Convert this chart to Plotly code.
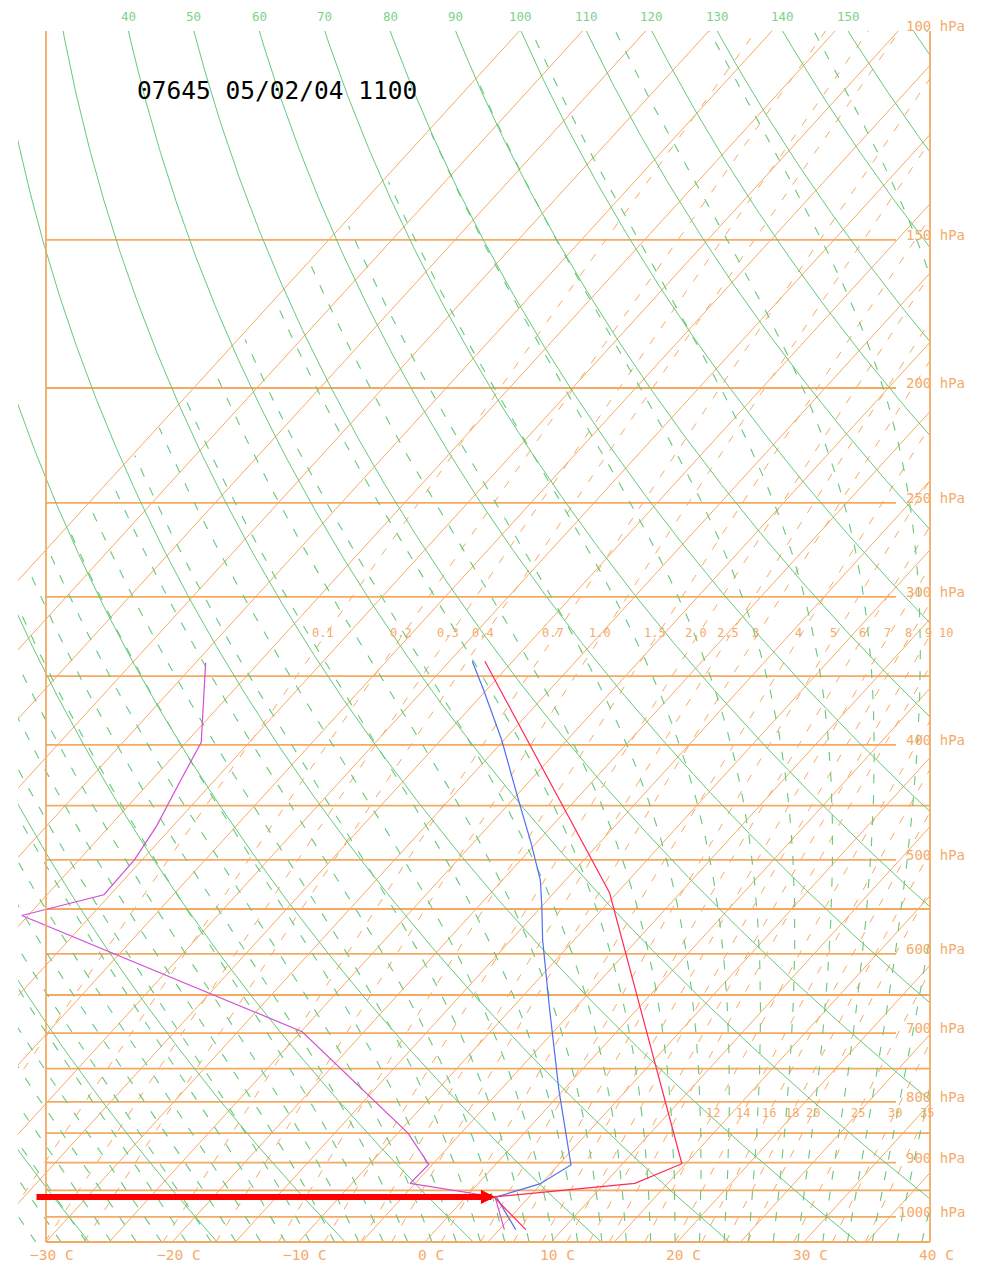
import numpy as np
import plotly.graph_objects as go

# ---------------- sounding profiles (hPa, deg C) ----------------
temp_p = [1025, 962, 937, 902, 533, 340]
temp_c = [7.1, 2.2, 12.4, 14.7, -10.6, -37.2]

dewp_p = [1025, 962, 938, 904, 781, 664, 584, 547, 520, 484, 448, 396, 359, 340]
dewp_c = [6.3, 2.4, 4.9, 6.0, -0.4, -7.2, -12.5, -15.0, -17.0, -20.4, -24.2, -30.2, -35.3, -38.2]

aux_p = [1025, 962, 937, 903, 850, 698, 557, 535, 500, 468, 431, 398, 341]
aux_c = [5.4, 2.3, -5.4, -5.3, -9.2, -24.9, -55.5, -50.5, -50.6, -51.3, -52.6, -53.8, -59.2]

# level marked by the arrow
mark_p = 962
mark_c = 2.3

title_text = "07645 05/02/04 1100"

# ---------------- diagram background definitions ----------------
isobar_levels = list(range(150, 1001, 50))
labelled_isobars = [100, 150, 200, 250, 300, 400, 500, 600, 700, 800, 900, 1000]
isotherm_values = list(range(-80, 41, 5))
dry_theta_c = list(range(-30, 161, 10))
theta_label_values = list(range(40, 151, 10))
moist_start_c = list(range(-40, 41, 2))
mix_upper = [0.1, 0.2, 0.3, 0.4, 0.7, 1.0, 1.5, 2.0, 2.5, 3, 4, 5, 6, 7, 8, 9, 10]
mix_upper_text = ["0.1", "0.2", "0.3", "0.4", "0.7", "1.0", "1.5", "2.0", "2.5",
                  "3", "4", "5", "6", "7", "8", "9", "10"]
mix_lower = [12, 14, 16, 18, 20, 25, 30, 35]
temp_ticks = [-30, -20, -10, 0, 10, 20, 30, 40]

P_BOT, P_TOP = 1050.0, 100.0
SKEW = 85.67          # horizontal shift (deg C) per decade of pressure
T_LEFT, T_RIGHT = -32.215, 40.0
T_FLOOR = -80.0       # coldest isotherm of the grid
PLOT_W = 912
PX_PER_C = PLOT_W / (T_RIGHT - T_LEFT)

ORANGE = "#f4aa63"
ORANGE_TXT = "#f4ab6a"
GREEN = "#66c879"
GREEN_TXT = "#7dd18c"
MONO = "DejaVu Sans Mono"

Rd, Cp, Lv, EPS = 287.04, 1005.7, 2.501e6, 0.622


def skx(t, p):
    return np.asarray(t, float) + SKEW * np.log10(P_BOT / np.asarray(p, float))


def to_paper_x(xd):
    return float((xd - T_LEFT) / (T_RIGHT - T_LEFT))


def sat_vp(tc):
    return 6.112 * np.exp(17.67 * tc / (tc + 243.5))


def dewpoint_from_vp(e):
    lg = np.log(e / 6.112)
    return 243.5 * lg / (17.67 - lg)


def moist_rate(tk, p):
    es = sat_vp(tk - 273.15)
    rs = EPS * es / (p - es)
    return (Rd * tk + Lv * rs) / (Cp + Lv * Lv * rs * EPS / (Rd * tk * tk)) / p


def integrate(t0k, p0, p1, dp):
    ps = np.arange(p0, p1 + 0.5 * dp, dp, dtype=float)
    ts = [t0k]
    t = t0k
    for i in range(len(ps) - 1):
        p = ps[i]
        h = ps[i + 1] - p
        k1 = moist_rate(t, p)
        k2 = moist_rate(t + 0.5 * h * k1, p + 0.5 * h)
        k3 = moist_rate(t + 0.5 * h * k2, p + 0.5 * h)
        k4 = moist_rate(t + h * k3, p + h)
        t = t + h / 6 * (k1 + 2 * k2 + 2 * k3 + k4)
        ts.append(t)
    return ps, np.array(ts)


def moist_adiabat(t0c):
    pu, tu = integrate(t0c + 273.15, 1000.0, P_TOP, -2.0)
    pd, td = integrate(t0c + 273.15, 1000.0, P_BOT, 2.0)
    p = np.concatenate([pd[::-1], pu[1:]])
    t = np.concatenate([td[::-1], tu[1:]]) - 273.15
    return t, p


def lines_trace(pairs, color, width, dash=None, floor=None):
    xs, ys = [], []
    for t, p in pairs:
        t = np.asarray(t, float)
        p = np.asarray(p, float)
        x = skx(t, p)
        for xi, pi, ti in zip(x, p, t):
            if floor is not None and ti < floor:
                xs.append(None)
                ys.append(None)
            else:
                xs.append(float(xi))
                ys.append(float(pi))
        xs.append(None)
        ys.append(None)
    return go.Scatter(x=xs, y=ys, mode="lines", hoverinfo="skip", showlegend=False,
                      line=dict(color=color, width=width, dash=dash))


p_fine = np.logspace(np.log10(P_BOT), np.log10(P_TOP), 300)

fig = go.Figure()

# isobars (labelled ones stop short of the label column)
end_short = T_RIGHT - 34 / PX_PER_C
iso_x, iso_y = [], []
for lvl in isobar_levels:
    iso_x += [-30.0, end_short if lvl in labelled_isobars else T_RIGHT, None]
    iso_y += [lvl, lvl, None]
fig.add_trace(go.Scatter(x=iso_x, y=iso_y, mode="lines", hoverinfo="skip", showlegend=False,
                         line=dict(color=ORANGE, width=1.8)))

# isotherms
fig.add_trace(lines_trace([([v, v], [P_BOT, P_TOP]) for v in isotherm_values], ORANGE, 1))

# saturation mixing ratio lines
mix_pairs = []
for w in mix_upper + mix_lower:
    e = w * p_fine / (622.0 + w)
    mix_pairs.append((dewpoint_from_vp(e), p_fine))
fig.add_trace(lines_trace(mix_pairs, ORANGE, 1, dash="8px,11px", floor=T_FLOOR))

# dry adiabats
dry_pairs = []
for th in dry_theta_c:
    t = (th + 273.15) * (p_fine / 1000.0) ** 0.2857 - 273.15
    dry_pairs.append((t, p_fine))
fig.add_trace(lines_trace(dry_pairs, GREEN, 1))

# saturated (pseudo) adiabats
moist_pairs = [moist_adiabat(t0) for t0 in moist_start_c]
fig.add_trace(lines_trace(moist_pairs, GREEN, 1.1, dash="9px,12px", floor=T_FLOOR))

# sounding curves
fig.add_trace(go.Scatter(x=skx(aux_c, aux_p), y=aux_p, mode="lines", showlegend=False,
                         line=dict(color="#d24fd6", width=1.2)))
fig.add_trace(go.Scatter(x=skx(dewp_c, dewp_p), y=dewp_p, mode="lines", showlegend=False,
                         line=dict(color="#4f6ff2", width=1.2)))
fig.add_trace(go.Scatter(x=skx(temp_c, temp_p), y=temp_p, mode="lines", showlegend=False,
                         line=dict(color="#ff2a55", width=1.2)))

ann = []
# pressure labels on the right
label_right = to_paper_x(T_RIGHT + 37 / PX_PER_C)
for lvl in labelled_isobars:
    if lvl == 100:
        yref, yv = "paper", 1.0
    else:
        yref, yv = "y", float(np.log10(lvl))
    ann.append(dict(x=label_right, y=yv, xref="paper", yref=yref,
                    text=f"{lvl} hPa", showarrow=False, xanchor="right", yanchor="middle",
                    yshift=5, font=dict(family=MONO, size=14, color=ORANGE_TXT)))
# temperature labels along the bottom
for t in temp_ticks:
    num = f"{t}".replace("-", "\u2212")
    ann.append(dict(x=t - (len(num) * 4.35 + 4.5) / PX_PER_C, y=0, xref="x", yref="paper",
                    text=f"{num} C", showarrow=False, xanchor="left", yanchor="middle",
                    yshift=-13, font=dict(family=MONO, size=14.5, color=ORANGE_TXT)))
# potential temperature labels along the top
for th in theta_label_values:
    t100 = (th + 273.15) * (P_TOP / 1000.0) ** 0.2857 - 273.15
    ann.append(dict(x=to_paper_x(skx(t100, P_TOP)), y=1, xref="paper", yref="paper", text=str(th),
                    showarrow=False, xanchor="center", yanchor="middle", yshift=15,
                    font=dict(family=MONO, size=12.5, color=GREEN_TXT)))
# mixing ratio labels
for w, txt in zip(mix_upper, mix_upper_text):
    p_lab = 322.0
    td = dewpoint_from_vp(w * p_lab / (622.0 + w))
    ann.append(dict(x=to_paper_x(skx(td, p_lab)), y=float(np.log10(p_lab)), xref="paper", yref="y",
                    text=txt, showarrow=False, xanchor="center", yanchor="middle", xshift=-3,
                    font=dict(family=MONO, size=12, color=ORANGE_TXT)))
for w in mix_lower:
    p_lab = 817.0
    td = dewpoint_from_vp(w * p_lab / (622.0 + w))
    ann.append(dict(x=to_paper_x(skx(td, p_lab)), y=float(np.log10(p_lab)), xref="paper", yref="y",
                    text=str(w), showarrow=False, xanchor="center", yanchor="middle",
                    font=dict(family=MONO, size=12, color=ORANGE_TXT)))
# station / time title
ann.append(dict(x=(135 - 18) / PLOT_W, y=1, xref="paper", yref="paper", text=title_text,
                showarrow=False, xanchor="left", yanchor="middle", yshift=-59,
                font=dict(family=MONO, size=24.5, color="black")))
# arrow pointing at the marked level
ann.append(dict(x=float(skx(mark_c, mark_p)), y=float(np.log10(mark_p)), xref="x", yref="y",
                ax=-30.0 - 11 / PX_PER_C, ay=float(np.log10(mark_p)), axref="x", ayref="y",
                text="", showarrow=True, arrowhead=2, arrowsize=0.47, arrowwidth=6,
                arrowcolor="#ff0000", standoff=0))

left_frame = to_paper_x(-30.0)
shapes = [
    dict(type="line", xref="paper", yref="paper", x0=left_frame, x1=left_frame, y0=0, y1=1,
         line=dict(color=ORANGE, width=1.8)),
    dict(type="line", xref="paper", yref="paper", x0=1, x1=1, y0=0, y1=1,
         line=dict(color=ORANGE, width=1.8)),
    dict(type="line", xref="paper", yref="paper", x0=left_frame, x1=1, y0=0, y1=0,
         line=dict(color=ORANGE, width=1.8)),
]

fig.update_layout(
    width=981, height=1273,
    margin=dict(l=18, r=51, t=31, b=31),
    paper_bgcolor="white", plot_bgcolor="white",
    showlegend=False,
    xaxis=dict(range=[T_LEFT, T_RIGHT], visible=False),
    yaxis=dict(type="log", range=[np.log10(P_BOT), np.log10(P_TOP)], visible=False),
    annotations=ann, shapes=shapes,
)

fig.write_html("out.html")
